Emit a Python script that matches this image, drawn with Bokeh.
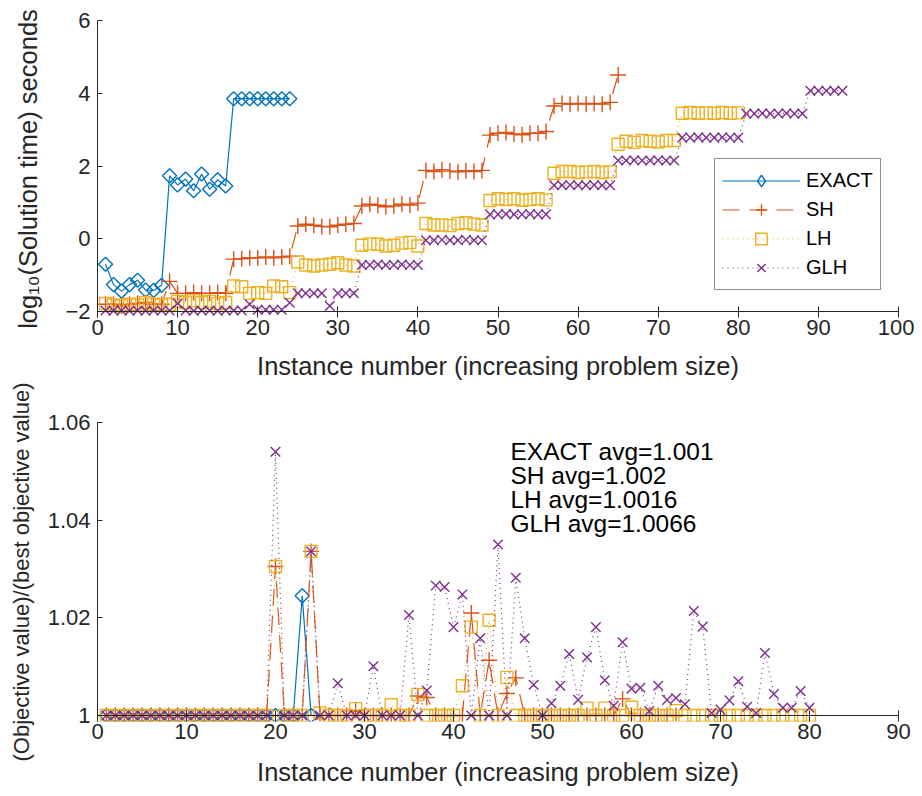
import math
from bokeh.plotting import figure
from bokeh.layouts import column
from bokeh.models import (Range1d, FixedTicker, Span, Legend, LegendItem, Label,
                          NumeralTickFormatter)
from bokeh.embed import file_html
from bokeh.resources import INLINE

FONT = "Liberation Sans"
C_EXACT = "#0072BD"
C_SH = "#D95319"
C_LH = "#EDB120"
C_GLH = "#7E2F8E"
AX = "#262626"

# ---------------- data: log10(solution time) ----------------
exact_time = [-0.70, -1.26, -1.44, -1.26, -1.14, -1.41, -1.42, -1.28,
              1.73, 1.48, 1.64, 1.32, 1.78, 1.36, 1.62, 1.45,
              3.85, 3.85, 3.85, 3.85, 3.85, 3.85, 3.85, 3.85]
sh_time = [-1.80, -1.80, -1.85, -1.80, -1.78, -1.75, -1.80, -1.80,
           -1.17, -1.50, -1.50, -1.48, -1.50, -1.50, -1.48, -1.50,
           -0.56, -0.55, -0.52, -0.52, -0.50, -0.52, -0.50, -0.48,
           0.35, 0.40, 0.37, 0.34, 0.33, 0.37, 0.40, 0.42,
           0.90, 0.95, 0.92, 0.88, 0.90, 0.95, 0.93, 0.98,
           1.88, 1.85, 1.90, 1.86, 1.84, 1.87, 1.85, 1.88,
           2.85, 2.90, 2.92, 2.88, 2.86, 2.90, 2.90, 2.95,
           3.65, 3.72, 3.70, 3.72, 3.70, 3.72, 3.70, 3.75,
           4.50]
lh_time = [-1.78, -1.82, -1.85, -1.80, -1.82, -1.75, -1.80, -1.82,
           -1.80, -1.72, -1.75, -1.70, -1.75, -1.72, -1.78, -1.75,
           -1.30, -1.32, -1.50, -1.48, -1.50, -1.30, -1.32, -1.48,
           -0.64, -0.72, -0.75, -0.72, -0.70, -0.66, -0.72, -0.75,
           -0.18, -0.14, -0.15, -0.20, -0.18, -0.12, -0.10, -0.20,
           0.42, 0.38, 0.38, 0.36, 0.42, 0.44, 0.40, 0.38,
           1.05, 1.10, 1.08, 1.10, 1.06, 1.08, 1.10, 1.07,
           1.80, 1.85, 1.85, 1.82, 1.84, 1.85, 1.82, 1.84,
           2.60, 2.68, 2.65, 2.70, 2.68, 2.66, 2.70, 2.70,
           3.45, 3.47, 3.45, 3.46, 3.45, 3.47, 3.45, 3.46]
glh_time = [-1.97, -1.98, -1.97, -1.98, -1.97, -1.98, -1.97, -1.97,
            -1.97, -1.78, -1.97, -1.98, -1.97, -1.97, -1.98, -1.97,
            -1.97, -1.97, -1.80, -1.95, -1.95, -1.95, -1.95, -1.76,
            -1.50, -1.50, -1.50, -1.50, -1.85, -1.50, -1.50, -1.50,
            -0.72, -0.72, -0.71, -0.72, -0.72, -0.71, -0.72, -0.72,
            -0.04, -0.04, -0.03, -0.04, -0.04, -0.03, -0.04, -0.04,
            0.67, 0.67, 0.68, 0.67, 0.67, 0.68, 0.67, 0.67,
            1.47, 1.47, 1.48, 1.47, 1.47, 1.48, 1.47, 1.47,
            2.15, 2.15, 2.16, 2.15, 2.15, 2.16, 2.15, 2.15,
            2.78, 2.78, 2.79, 2.78, 2.78, 2.79, 2.78, 2.78,
            3.44, 3.44, 3.45, 3.44, 3.44, 3.45, 3.44, 3.44,
            4.07, 4.07, 4.07, 4.07, 4.07]

# ---------------- data: objective ratio ----------------
exact_obj = [1, 1, 1, 1, 1, 1, 1, 1, 1, 1, 1, 1, 1, 1, 1, 1, 1, 1, 1, 1,
             1, 1, 1.0245, 1]
sh_obj = [1, 1, 1, 1, 1, 1, 1, 1, 1, 1, 1, 1, 1, 1, 1, 1, 1, 1, 1, 1.0305,
          1, 1, 1, 1.0336, 1, 1, 1, 1, 1.001, 1,
          1, 1, 1, 1, 1, 1.004, 1.0037, 1, 1, 1,
          1, 1.021, 1, 1.0113, 1, 1.0045, 1.0077, 1, 1, 1,
          1, 1, 1, 1, 1, 1, 1, 1, 1.0034, 1,
          1, 1, 1, 1, 1]
lh_obj = [1, 1, 1, 1, 1, 1, 1, 1, 1, 1, 1, 1, 1, 1, 1, 1, 1, 1, 1, 1.0305,
          1, 1, 1, 1.0336, 1.0005, 1, 1, 1, 1.0014, 1,
          1, 1, 1.0022, 1, 1, 1.0043, 1, 1, 1, 1,
          1.0061, 1.0181, 1, 1.0195, 1, 1.0078, 1, 1, 1, 1,
          1, 1, 1, 1, 1.0015, 1, 1.0015, 1, 1, 1.0017,
          1, 1, 1, 1, 1.001, 1, 1, 1, 1, 1,
          1, 1, 1, 1, 1, 1, 1, 1, 1, 1]
glh_obj = [1, 1, 1, 1, 1, 1, 1, 1, 1, 1, 1, 1, 1, 1, 1, 1, 1, 1, 1, 1.054,
           1, 1, 1, 1.0336, 1, 1, 1.0066, 1, 1, 1,
           1.0101, 1, 1, 1, 1.0206, 1, 1.0051, 1.0266, 1.0263, 1.0181,
           1.0248, 1, 1.0158, 1, 1.035, 1, 1.0282, 1.0158, 1.0063, 1,
           1.0025, 1.0061, 1.0126, 1.0032, 1.0119, 1.0181, 1.0072, 1.002, 1.015, 1.0055,
           1.0057, 1.0009, 1.0061, 1.0032, 1.0036, 1.0023, 1.0214, 1.0182, 1.0005, 1.0012,
           1.0031, 1.007, 1.0018, 1.0005, 1.0128, 1.0044, 1.0016, 1.0016, 1.005, 1.0016]

avg_labels = ["EXACT avg=1.001", "SH avg=1.002", "LH avg=1.0016", "GLH avg=1.0066"]

# name, colour, dash, marker, size, angle, legend marker
series = [
    ("EXACT", C_EXACT, "solid", "square", 10, math.pi / 4, "diamond"),
    ("SH", C_SH, "17 10", "cross", 16, 0.0, "cross"),
    ("LH", C_LH, "1 4", "square", 12, 0.0, "square"),
    ("GLH", C_GLH, "1 4", "x", 13.5, 0.0, "x"),
]


def style_axes(p, xlab_standoff, ylab_standoff, ylab_size):
    p.xgrid.visible = False
    p.ygrid.visible = False
    p.outline_line_color = None
    p.background_fill_color = "white"
    p.border_fill_color = "white"
    for ax in p.xaxis:
        ax.axis_line_alpha = 0
        ax.major_tick_in = 11
        ax.major_tick_out = 0
        ax.minor_tick_line_alpha = 0
        ax.major_tick_line_color = AX
        ax.major_label_text_font = FONT
        ax.major_label_text_font_size = "22px"
        ax.major_label_text_color = AX
        ax.major_label_standoff = 2
        ax.axis_label_text_font = FONT
        ax.axis_label_text_font_size = "25.5px"
        ax.axis_label_text_font_style = "normal"
        ax.axis_label_text_color = AX
        ax.axis_label_standoff = xlab_standoff
    for ax in p.yaxis:
        ax.axis_line_color = AX
        ax.major_tick_in = 5
        ax.major_tick_out = 0
        ax.minor_tick_line_alpha = 0
        ax.major_tick_line_color = AX
        ax.major_label_text_font = FONT
        ax.major_label_text_font_size = "22px"
        ax.major_label_text_color = AX
        ax.major_label_standoff = 7
        ax.axis_label_text_font = FONT
        ax.axis_label_text_font_size = ylab_size
        ax.axis_label_text_font_style = "normal"
        ax.axis_label_text_color = AX
        ax.axis_label_standoff = ylab_standoff


# ---------------- top panel ----------------
pad1 = 6 / 36.5
p1 = figure(width=914, height=382, output_backend="svg", toolbar_location=None,
            x_range=Range1d(0, 100), y_range=Range1d(-2 - pad1, 6),
            min_border_left=97, min_border_right=16, min_border_top=20,
            min_border_bottom=64,
            x_axis_label="Instance number (increasing problem size)",
            y_axis_label="log\u2081\u2080(Solution time) seconds")
p1.xaxis.ticker = FixedTicker(ticks=list(range(0, 101, 10)))
p1.yaxis.ticker = FixedTicker(ticks=[-2, 0, 2, 4, 6])
style_axes(p1, 14, 20, "25.5px")
p1.add_layout(Span(location=-2, dimension="width", line_color=AX, line_width=1))

times = [exact_time, sh_time, lh_time, glh_time]
items = []
for (name, col, dash, mk, sz, ang, lmk), ys in zip(series, times):
    xs = list(range(1, len(ys) + 1))
    lr = p1.line(xs, ys, line_color=col, line_dash=dash, line_width=1.2)
    sr = p1.scatter(xs, ys, marker=mk, size=sz, angle=ang, line_color=col,
                    fill_color=None, line_width=1.4)
    if lmk != mk:
        # legend key only (NaN position, never drawn in the plot area)
        sr = p1.scatter(x=[float("nan")], y=[float("nan")], marker=lmk, size=sz,
                        line_color=col, fill_color=None, line_width=1.4)
    items.append(LegendItem(label=name, renderers=[lr, sr]))

legend = Legend(items=items, location=(617, 27))
legend.label_text_font = FONT
legend.label_text_font_size = "20px"
legend.label_text_color = "black"
legend.glyph_width = 78
legend.glyph_height = 29
legend.label_standoff = 6
legend.spacing = 0
legend.padding = 7
legend.margin = 0
legend.border_line_color = AX
legend.border_line_width = 1
legend.background_fill_color = "white"
legend.background_fill_alpha = 1
p1.add_layout(legend)

# ---------------- bottom panel ----------------
pad2 = 6 / 4883.0
p2 = figure(width=914, height=406, output_backend="svg", toolbar_location=None,
            x_range=Range1d(0, 90), y_range=Range1d(1 - pad2, 1.06),
            min_border_left=97, min_border_right=16, min_border_top=40,
            min_border_bottom=67,
            x_axis_label="Instance number (increasing problem size)",
            y_axis_label="(Objective value)/(best objective value)")
p2.xaxis.ticker = FixedTicker(ticks=list(range(0, 91, 10)))
p2.yaxis.ticker = FixedTicker(ticks=[1, 1.02, 1.04, 1.06])
p2.yaxis.formatter = NumeralTickFormatter(format="0.[00]")
style_axes(p2, 16, 11, "22px")
p2.add_layout(Span(location=1, dimension="width", line_color=AX, line_width=1))

objs = [exact_obj, sh_obj, lh_obj, glh_obj]
for (name, col, dash, mk, sz, ang, lmk), ys in zip(series, objs):
    xs = list(range(1, len(ys) + 1))
    p2.line(xs, ys, line_color=col, line_dash=dash, line_width=1.2)
    p2.scatter(xs, ys, marker=mk, size=sz, angle=ang, line_color=col,
               fill_color=None, line_width=1.4)

for k, t in enumerate(avg_labels):
    p2.add_layout(Label(x=46.4, y=1.054, y_offset=-24 * k, text=t,
                        text_font=FONT, text_font_size="24.5px", text_color="black",
                        text_baseline="middle", text_align="left"))

layout = column(p1, p2, spacing=0)
open("out.html", "w").write(file_html(layout, INLINE))
